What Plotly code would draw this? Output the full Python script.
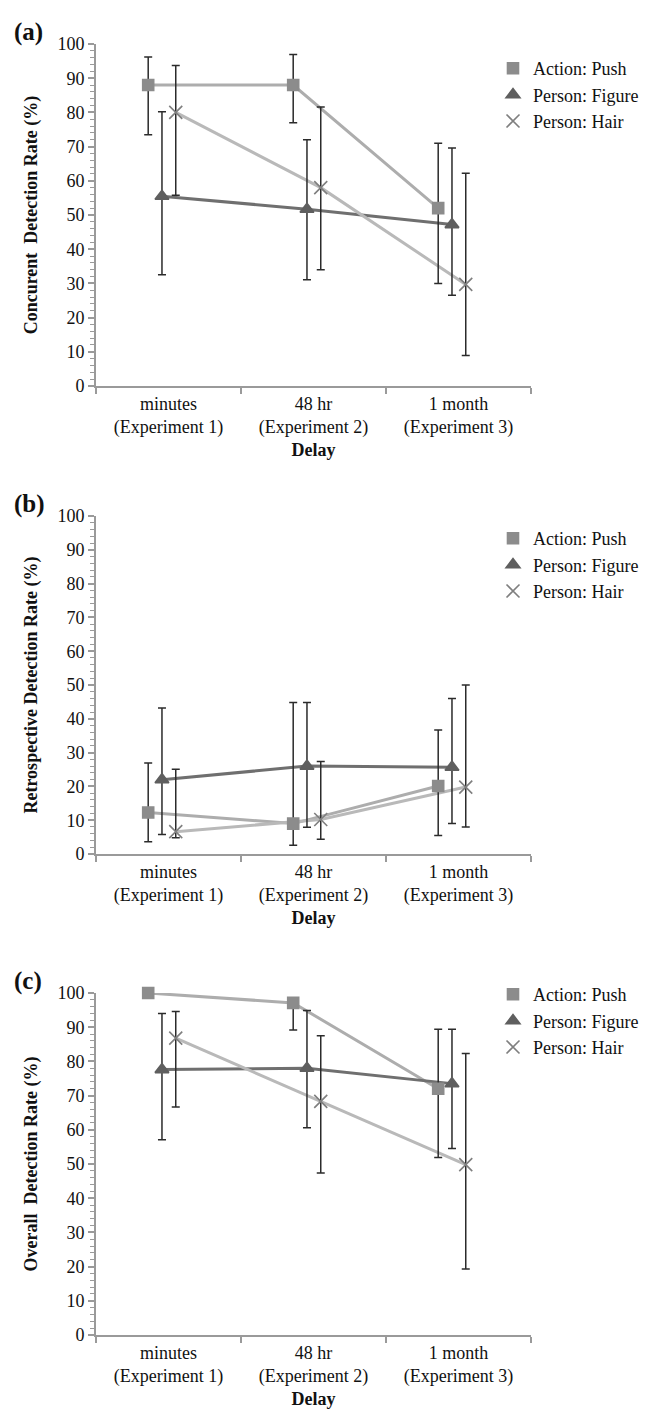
import plotly.graph_objects as go

# ---------------- data ----------------
categories = ["minutes<br>(Experiment 1)", "48 hr<br>(Experiment 2)", "1 month<br>(Experiment 3)"]
series_names = ["Action: Push", "Person: Figure", "Person: Hair"]

# (a) Concurrent detection rate (%)
conc_push = [88.0, 88.0, 52.0]
conc_push_hi = [96.2, 96.9, 71.0]
conc_push_lo = [73.5, 77.0, 30.0]
conc_figure = [55.5, 51.7, 47.2]
conc_figure_hi = [80.2, 72.0, 69.6]
conc_figure_lo = [32.5, 31.1, 26.5]
conc_hair = [80.0, 58.0, 29.7]
conc_hair_hi = [93.7, 81.6, 62.2]
conc_hair_lo = [55.8, 34.0, 8.9]

# (b) Retrospective detection rate (%)
retro_push = [12.3, 9.0, 20.1]
retro_push_hi = [26.9, 44.8, 36.7]
retro_push_lo = [3.6, 2.6, 5.5]
retro_figure = [22.0, 26.0, 25.7]
retro_figure_hi = [43.2, 44.8, 46.0]
retro_figure_lo = [5.8, 7.9, 9.0]
retro_hair = [6.6, 10.2, 19.8]
retro_hair_hi = [25.1, 27.4, 50.0]
retro_hair_lo = [4.8, 4.4, 8.0]

# (c) Overall detection rate (%)
over_push = [100.0, 97.1, 72.0]
over_push_hi = [100.0, 97.1, 89.4]
over_push_lo = [100.0, 89.2, 51.9]
over_figure = [77.6, 78.0, 73.5]
over_figure_hi = [94.0, 94.9, 89.4]
over_figure_lo = [57.1, 60.6, 54.5]
over_hair = [86.8, 68.3, 49.8]
over_hair_hi = [94.6, 87.5, 82.3]
over_hair_lo = [66.7, 47.4, 19.3]

y_titles = ["Concurent  Detection Rate (%)", "Retrospective Detection Rate (%)", "Overall  Detection Rate (%)"]
panel_labels = ["(a)", "(b)", "(c)"]
x_title = "Delay"

# ---------------- styling ----------------
FONT = "Liberation Serif, Times New Roman, serif"
W, H = 647, 1413
series_offset = [-0.14, -0.045, 0.05]
line_colors = ["#adadad", "#6f6f6f", "#b9b9b9"]
marker_colors = ["#8c8c8c", "#5f5f5f", "#7f7f7f"]
symbols = ["square", "triangle-up", "x-thin-open"]
msizes = [11, 12, 13]
err_color = "#2b2b2b"

x_px = (88, 523)
panel_px = [(36, 378), (508, 846), (985, 1327)]  # (top=100, bottom=0)
legend_top_px = [42, 512, 968]

panels = [
    [(conc_push, conc_push_hi, conc_push_lo), (conc_figure, conc_figure_hi, conc_figure_lo), (conc_hair, conc_hair_hi, conc_hair_lo)],
    [(retro_push, retro_push_hi, retro_push_lo), (retro_figure, retro_figure_hi, retro_figure_lo), (retro_hair, retro_hair_hi, retro_hair_lo)],
    [(over_push, over_push_hi, over_push_lo), (over_figure, over_figure_hi, over_figure_lo), (over_hair, over_hair_hi, over_hair_lo)],
]

fig = go.Figure()
layout = dict(
    width=W, height=H, margin=dict(l=0, r=0, t=0, b=0, autoexpand=False),
    paper_bgcolor="white", plot_bgcolor="white",
    font=dict(family=FONT, color="#111111", size=17),
    annotations=[],
)

for p, series in enumerate(panels):
    ax = "" if p == 0 else str(p + 1)
    xref, yref = "x" + ax, "y" + ax
    leg = "legend" if p == 0 else "legend" + str(p + 1)
    for s, (vals, hi, lo) in enumerate(series):
        xs = [i + series_offset[s] for i in range(len(vals))]
        fig.add_trace(go.Scatter(
            x=xs, y=vals, mode="lines", xaxis=xref, yaxis=yref,
            line=dict(color=line_colors[s], width=3), showlegend=False, hoverinfo="skip",
            cliponaxis=False))
    for s, (vals, hi, lo) in enumerate(series):
        xs = [i + series_offset[s] for i in range(len(vals))]
        plus = [h - v for h, v in zip(hi, vals)]
        minus = [v - l for l, v in zip(lo, vals)]
        fig.add_trace(go.Scatter(
            x=xs, y=vals, mode="markers", xaxis=xref, yaxis=yref, name=series_names[s],
            legend=leg, cliponaxis=False,
            marker=dict(symbol=symbols[s], size=msizes[s], color=marker_colors[s],
                        line=dict(color=marker_colors[s], width=1.6)),
            error_y=dict(type="data", symmetric=False, array=plus, arrayminus=minus,
                         color=err_color, thickness=1.5, width=4)))
    top, bot = panel_px[p]
    layout["xaxis" + ax] = dict(
        domain=[x_px[0] / W, x_px[1] / W], range=[-0.5, 2.5], anchor=yref,
        tickmode="array", tickvals=[0, 1, 2], ticktext=categories, ticks="", ticklen=0,
        ticklabelstandoff=0,
        showline=True, linecolor="#9a9a9a", linewidth=2, showgrid=False, zeroline=False,
        tickfont=dict(family=FONT, size=18, color="#111111"),
        minor=dict(tickmode="array", tickvals=[-0.5, 0.5, 1.5, 2.5], ticks="outside",
                   ticklen=6, tickcolor="#9a9a9a", tickwidth=1.5, showgrid=False),
        title=dict(text="<b>" + x_title + "</b>", font=dict(family=FONT, size=18, color="#111111"), standoff=6),
    )
    layout["yaxis" + ax] = dict(
        domain=[1 - bot / H, 1 - top / H], range=[0, 100], anchor=xref,
        tickmode="linear", tick0=0, dtick=10, ticks="outside", ticklen=6, tickcolor="#9a9a9a", tickwidth=1.5,
        showline=True, linecolor="#9a9a9a", linewidth=2, showgrid=False, zeroline=False,
        tickfont=dict(family=FONT, size=18, color="#111111"),
        minor=dict(dtick=2, ticks="outside", ticklen=4, tickcolor="#9a9a9a", tickwidth=1, showgrid=False),
        title=dict(text="<b>" + y_titles[p] + "</b>", font=dict(family=FONT, size=18, color="#111111"), standoff=15),
    )
    layout[leg] = dict(
        x=485 / W, y=1 - legend_top_px[p] / H, xanchor="left", yanchor="top",
        bgcolor="rgba(0,0,0,0)", borderwidth=0,
        font=dict(family=FONT, size=18, color="#111111"), itemwidth=30,
    )
    layout["annotations"].append(dict(
        text="<b>" + panel_labels[p] + "</b>", x=4 / W, y=1 - (top - 12) / H,
        xref="paper", yref="paper", xanchor="left", yanchor="middle", showarrow=False,
        font=dict(family=FONT, size=25, color="#111111")))

fig.update_layout(**layout)
fig.write_html("out.html")
